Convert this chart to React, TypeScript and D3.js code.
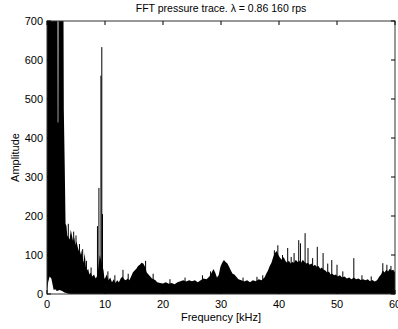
import React from "react";
import * as d3 from "d3";

const title = "FFT pressure trace. \u03bb = 0.86 160 rps";
const xLabel = "Frequency [kHz]";
const yLabel = "Amplitude";
const xTicks = [0, 10, 20, 30, 40, 50, 60];
const yTicks = [0, 100, 200, 300, 400, 500, 600, 700];

// upper envelope of the spectrum (kHz, amplitude)
const freqKHz = [
  0.0, 1.8, 1.85, 1.95, 2.0, 2.8, 2.9, 3.05, 3.2, 3.35, 3.5, 3.9, 4.1, 4.3, 4.5, 4.7, 4.9, 5.1, 5.3, 5.5,
  5.7, 5.9, 6.1, 6.3, 6.5, 6.7, 6.9, 7.1, 7.3, 7.5, 7.8, 8.1, 8.4, 8.6, 8.8, 9.1, 9.75, 9.9,
  10.0, 10.3, 10.6, 10.9, 11.2, 11.5, 11.8, 12.1, 12.4, 12.7, 13.0, 13.3, 13.6, 13.9, 14.2, 14.5, 14.8,
  15.1, 15.4, 15.7, 16.0, 16.3, 16.6, 16.9, 17.2, 17.5, 17.8, 18.1, 18.4, 18.7, 19.0, 19.5, 20.0, 20.5,
  21.0, 21.5, 22.0, 22.5, 23.0, 23.5, 24.0, 24.5, 25.0, 25.5, 26.0, 26.5, 27.0, 27.5, 28.0, 28.4, 28.7,
  29.0, 29.3, 29.6, 29.9, 30.2, 30.5, 30.8, 31.1, 31.4, 31.7, 32.0, 32.3, 32.6, 33.0, 33.5, 34.0, 34.5,
  35.0, 35.5, 36.0, 36.5, 37.0, 37.5, 37.8, 38.1, 38.4, 38.7, 39.0, 39.3, 39.6, 39.9, 40.2, 40.5, 40.8,
  41.1, 41.4, 41.7, 42.0, 42.3, 42.6, 42.9, 43.2, 43.5, 43.8, 44.1, 44.4, 44.7, 45.0, 45.3, 45.6, 45.9,
  46.2, 46.5, 46.8, 47.1, 47.4, 47.7, 48.0, 48.3, 48.6, 48.9, 49.2, 49.5, 49.8, 50.1, 50.5, 50.9, 51.3,
  51.7, 52.1, 52.5, 52.9, 53.3, 53.7, 54.1, 54.5, 54.9, 55.3, 55.7, 56.1, 56.5, 56.9, 57.3, 57.6, 57.9,
  58.2, 58.5, 58.8, 59.1, 59.4, 59.7, 60.0,
];
const upperAmp = [
  900, 900, 440, 440, 900, 900, 472, 336, 180, 175, 150, 140, 165, 150, 135, 145, 125, 135, 120, 110,
  100, 112, 95, 80, 105, 70, 60, 65, 50, 55, 45, 50, 40, 45, 60, 100, 60, 40,
  40, 50, 35, 42, 30, 38, 28, 35, 30, 40, 45, 38, 35, 40, 35, 45, 55,
  60, 65, 72, 75, 80, 78, 70, 55, 50, 45, 40, 38, 35, 30, 28, 27, 30,
  26, 28, 25, 30, 33, 35, 32, 35, 33, 35, 30, 35, 40, 38, 45, 55, 64,
  55, 42, 48, 70, 80, 87, 82, 78, 70, 60, 52, 50, 45, 38, 35, 32, 35,
  30, 35, 33, 38, 35, 42, 52, 60, 72, 80, 95, 105, 110, 100, 92, 88, 95,
  85, 80, 85, 78, 82, 80, 88, 82, 85, 80, 88, 82, 78, 80, 75, 78, 72,
  75, 70, 72, 65, 68, 62, 60, 55, 58, 50, 52, 48, 50, 45, 48, 42, 45,
  40, 42, 38, 42, 38, 40, 36, 38, 35, 38, 33, 36, 32, 35, 45, 50, 60,
  55, 62, 58, 65, 60, 62, 55,
];

// white gap under the low-frequency part (kHz, floor amplitude)
const floorFreq = [0.0, 0.2, 0.45, 0.75, 0.95, 1.15, 1.4, 1.7, 2.2, 2.6, 3.0, 4.0];
const floorAmp = [0, 30, 45, 40, 25, 10, 12, 8, 10, 8, 4, 0];

// isolated narrow spikes (kHz, amplitude)
const spikeFreq = [
  3.67, 4.6, 5.0, 5.6, 6.15, 6.8, 7.6, 8.7, 8.95, 9.3, 9.45, 9.57, 10.5, 11.7, 13.1, 14.0,
  17.0, 18.3, 21.2, 23.8, 26.8, 28.2, 33.8, 36.2, 37.2, 39.2, 39.8, 40.6, 41.5, 42.1, 42.6,
  43.4, 43.7, 44.5, 45.0, 45.8, 46.6, 47.6, 48.4, 49.1, 50.0, 51.0, 52.9, 54.3, 55.9, 57.9, 58.6, 59.3,
];
const spikeAmp = [
  180, 160, 150, 128, 115, 85, 68, 174, 272, 560, 633, 205, 58, 48, 62, 52,
  85, 52, 38, 42, 48, 58, 42, 44, 48, 112, 125, 100, 118, 95, 105,
  138, 130, 156, 118, 92, 121, 105, 78, 87, 75, 58, 92, 48, 45, 79, 75, 72,
];

export default function App() {
  const W = 398, H = 329;
  const L = 47, R = 395, T = 21, B = 294;
  const x = d3.scaleLinear().domain([0, 60]).range([L, R]);
  const y = d3.scaleLinear().domain([0, 700]).range([B, T]);

  const upperPts = freqKHz.map((f, i) => [f, upperAmp[i]] as [number, number]);
  const area = d3.area<[number, number]>()
    .x((d) => x(d[0]))
    .y0(() => y(0))
    .y1((d) => y(d[1]));
  const floorPts = floorFreq.map((f, i) => [f, floorAmp[i]] as [number, number]);

  const font = "'Liberation Sans', Arial, Helvetica, sans-serif";
  const tickLen = 4;

  return (
    <svg width={W} height={H} style={{ position: "absolute", left: 0, top: 0, background: "#fff" }}>
      <defs>
        <clipPath id="plotClip">
          <rect x={L} y={T} width={R - L} height={B - T} />
        </clipPath>
      </defs>
      <rect x={0} y={0} width={W} height={H} fill="#fff" />
      <g clipPath="url(#plotClip)">
        <path d={area(upperPts) || ""} fill="#000" />
        <path d={area(floorPts) || ""} fill="#fff" />
        {spikeFreq.map((f, i) => (
          <line key={i} x1={x(f)} x2={x(f)} y1={y(0)} y2={y(spikeAmp[i])} stroke="#000" strokeWidth={1} />
        ))}
      </g>
      {/* axes box */}
      <rect x={L} y={T} width={R - L} height={B - T} fill="none" stroke="#333" strokeWidth={1} />
      {xTicks.map((t) => (
        <g key={"xt" + t}>
          <line x1={x(t)} x2={x(t)} y1={B} y2={B - tickLen} stroke="#000" />
          <line x1={x(t)} x2={x(t)} y1={T} y2={T + tickLen} stroke="#000" />
          <text x={x(t)} y={308} textAnchor="middle" fontFamily={font} fontSize={11} fill="#000">{t}</text>
        </g>
      ))}
      {yTicks.map((t) => (
        <g key={"yt" + t}>
          <line x1={L} x2={L + tickLen} y1={y(t)} y2={y(t)} stroke="#000" />
          <line x1={R} x2={R - tickLen} y1={y(t)} y2={y(t)} stroke="#000" />
          <text x={43} y={y(t) + 4} textAnchor="end" fontFamily={font} fontSize={11} fill="#000">{t}</text>
        </g>
      ))}
      <text x={(L + R) / 2} y={12} textAnchor="middle" fontFamily={font} fontSize={10.5} fill="#000">{title}</text>
      <text x={(L + R) / 2} y={321} textAnchor="middle" fontFamily={font} fontSize={11} fill="#000">{xLabel}</text>
      <text transform={`translate(19,${(T + B) / 2}) rotate(-90)`} textAnchor="middle" fontFamily={font} fontSize={11} fill="#000">{yLabel}</text>
    </svg>
  );
}
